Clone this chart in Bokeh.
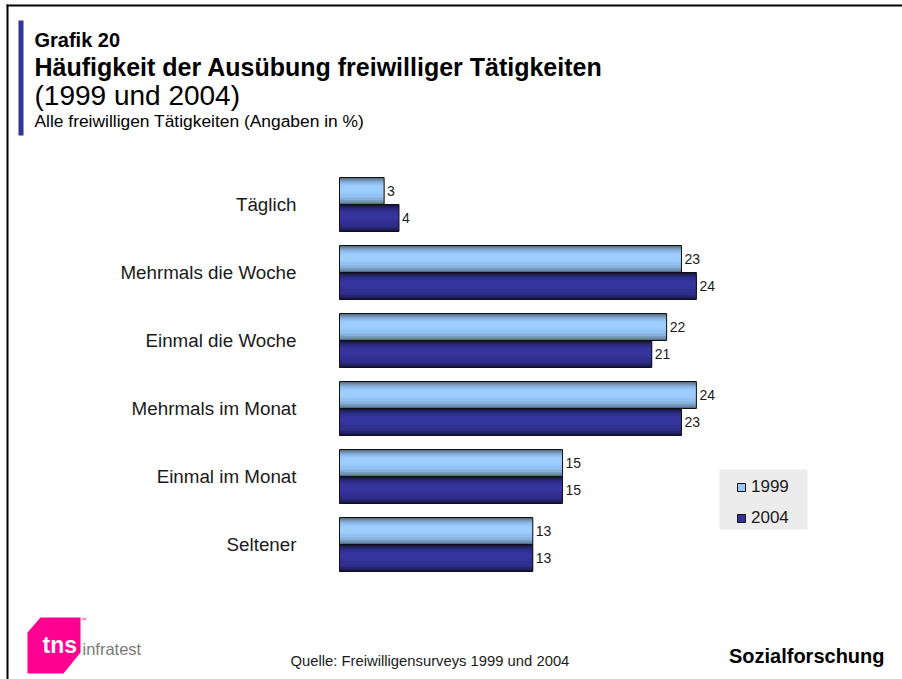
from bokeh.plotting import figure
from bokeh.models import (Range1d, ColumnDataSource, LabelSet, Label,
                          Legend, LegendItem, BoxAnnotation, PolyAnnotation)
from bokeh.transform import dodge
from bokeh.core.properties import value
from bokeh.embed import file_html
from bokeh.resources import INLINE

# ---------------- data ----------------
categories = ["Täglich", "Mehrmals die Woche", "Einmal die Woche",
              "Mehrmals im Monat", "Einmal im Monat", "Seltener"]
series_names = ["1999", "2004"]
values_1999 = [3, 23, 22, 24, 15, 13]
values_2004 = [4, 24, 21, 23, 15, 13]

title_small = "Grafik 20"
title_main = "Häufigkeit der Ausübung freiwilliger Tätigkeiten"
title_years = "(1999 und 2004)"
subtitle = "Alle freiwilligen Tätigkeiten (Angaben in %)"
source_text = "Quelle: Freiwilligensurveys 1999 und 2004"
corner_text = "Sozialforschung"

# ---------------- layout ----------------
W, H = 902, 679
X0 = 339          # pixel of value 0
PX_PER_UNIT = 14.87
Y0 = 204          # pixel of first category centre
PX_PER_CAT = 68
FONT = "Liberation Sans"

def sx(rx):
    return rx

def sy(ry):
    return H - ry

p = figure(width=W, height=H, output_backend="svg", toolbar_location=None,
           x_range=Range1d(-X0 / PX_PER_UNIT, (W - X0) / PX_PER_UNIT),
           y_range=Range1d((H - Y0) / PX_PER_CAT, -Y0 / PX_PER_CAT),
           min_border=0, min_border_left=0, min_border_right=0,
           min_border_top=0, min_border_bottom=0)
p.outline_line_color = None
p.grid.visible = False
p.axis.visible = False
p.background_fill_color = "white"
p.border_fill_color = "white"

pos = list(range(len(categories)))
src = ColumnDataSource(dict(cat=categories, pos=pos,
                            v1999=values_1999, v2004=values_2004))

bar_h = 27 / PX_PER_CAT
offsets = {"1999": -bar_h / 2, "2004": bar_h / 2}   # y grows downward
cols = {"1999": "v1999", "2004": "v2004"}
# (top fraction, bottom fraction, colour) — nested shading layers
layers = {
    "1999": [(0.00, 1.00, "#526b86"), (0.05, 0.95, "#6686a6"), (0.10, 0.90, "#799dc2"),
             (0.15, 0.83, "#87b0da"), (0.21, 0.74, "#92c1f0"), (0.27, 0.62, "#98cafc"),
             (0.32, 0.52, "#9ccfff")],
    "2004": [(0.00, 1.00, "#151544"), (0.05, 0.95, "#1e1e5e"), (0.10, 0.90, "#262674"),
             (0.15, 0.83, "#2c2c85"), (0.21, 0.74, "#303091"), (0.27, 0.62, "#333399"),
             (0.32, 0.52, "#35359e")],
}
legend_layer = {"1999": "#98cafc", "2004": "#333399"}

legend_items = []
for s in series_names:
    mid_r = None
    for (tf, bf, c) in layers[s]:
        centre = offsets[s] - bar_h / 2 + (tf + bf) / 2 * bar_h
        r = p.hbar(y=dodge("pos", centre), right=cols[s], left=0,
                   height=(bf - tf) * bar_h, source=src, fill_color=c, line_color=None)
        if c == legend_layer[s]:
            mid_r = r
    outline = p.hbar(y=dodge("pos", offsets[s]), right=cols[s], left=0,
                     height=bar_h, source=src, fill_color=None,
                     line_color="#111111", line_width=1)
    p.add_layout(LabelSet(x=cols[s], y=dodge("pos", offsets[s]), text=cols[s],
                          source=src, x_offset=3, text_baseline="middle",
                          text_font=value(FONT), text_font_size="14px",
                          text_color="#1a1a1a"))
    legend_items.append(LegendItem(label=s, renderers=[mid_r, outline]))

# category labels, right-aligned left of the bars
p.add_layout(LabelSet(x=0, y="pos", text="cat", source=src, x_offset=-43,
                      text_align="right", text_baseline="middle",
                      text_font=value(FONT), text_font_size="18.8px",
                      text_color="#1a1a1a"))

def box(l, r, t, b, color, level="annotation"):
    p.add_layout(BoxAnnotation(left=sx(l), right=sx(r), top=sy(t), bottom=sy(b),
                               left_units="screen", right_units="screen",
                               top_units="screen", bottom_units="screen",
                               fill_color=color, fill_alpha=1, line_color=None,
                               level=level))

# legend background
box(719, 807, 469, 529, "#ececec", level="underlay")
legend = Legend(items=legend_items, location=(736, sy(528)),
                background_fill_alpha=0, border_line_color=None,
                glyph_width=10, glyph_height=10, label_height=21, spacing=10,
                padding=6, margin=0, label_standoff=5,
                label_text_font=FONT, label_text_font_size="17px",
                label_text_color="#1a1a1a")
p.add_layout(legend)

# page frame lines and accent bar
box(6, 8, 4, 679, "black")
box(6, 902, 4, 6, "black")
box(18, 23, 20, 135, "#333399")

def label(txt, rx, baseline, size, bold=False, color="#000000", align="left"):
    # rendered alphabetic baseline sits ~0.38 em below the anchor
    ry = baseline - 0.38 * size
    p.add_layout(Label(x=sx(rx), y=sy(ry), x_units="screen", y_units="screen",
                       text=txt, text_font=FONT, text_font_size=f"{size}px",
                       text_font_style="bold" if bold else "normal",
                       text_color=color, text_align=align,
                       text_baseline="alphabetic"))

label(title_small, 34, 47, 20, bold=True)
label(title_main, 34, 75.5, 25, bold=True)
label(title_years, 34, 106, 28)
label(subtitle, 34, 127, 17.4)
label(source_text, 290, 666, 14.8, color="#1a1a1a")
label(corner_text, 884, 663, 20, bold=True, align="right")

# logo
p.add_layout(PolyAnnotation(xs=[27, 40, 80, 80, 63, 27],
                            ys=[sy(632), sy(617), sy(617), sy(652), sy(673), sy(673)],
                            xs_units="screen", ys_units="screen",
                            fill_color="#ff0090", fill_alpha=1, line_color=None))
label("tns", 42, 653, 23, bold=True, color="white")
label("infratest", 82, 655, 16.5, color="#7a7a7a")
label("™", 80, 622, 6, color="#ff0090")

open("out.html", "w").write(file_html(p, INLINE))
